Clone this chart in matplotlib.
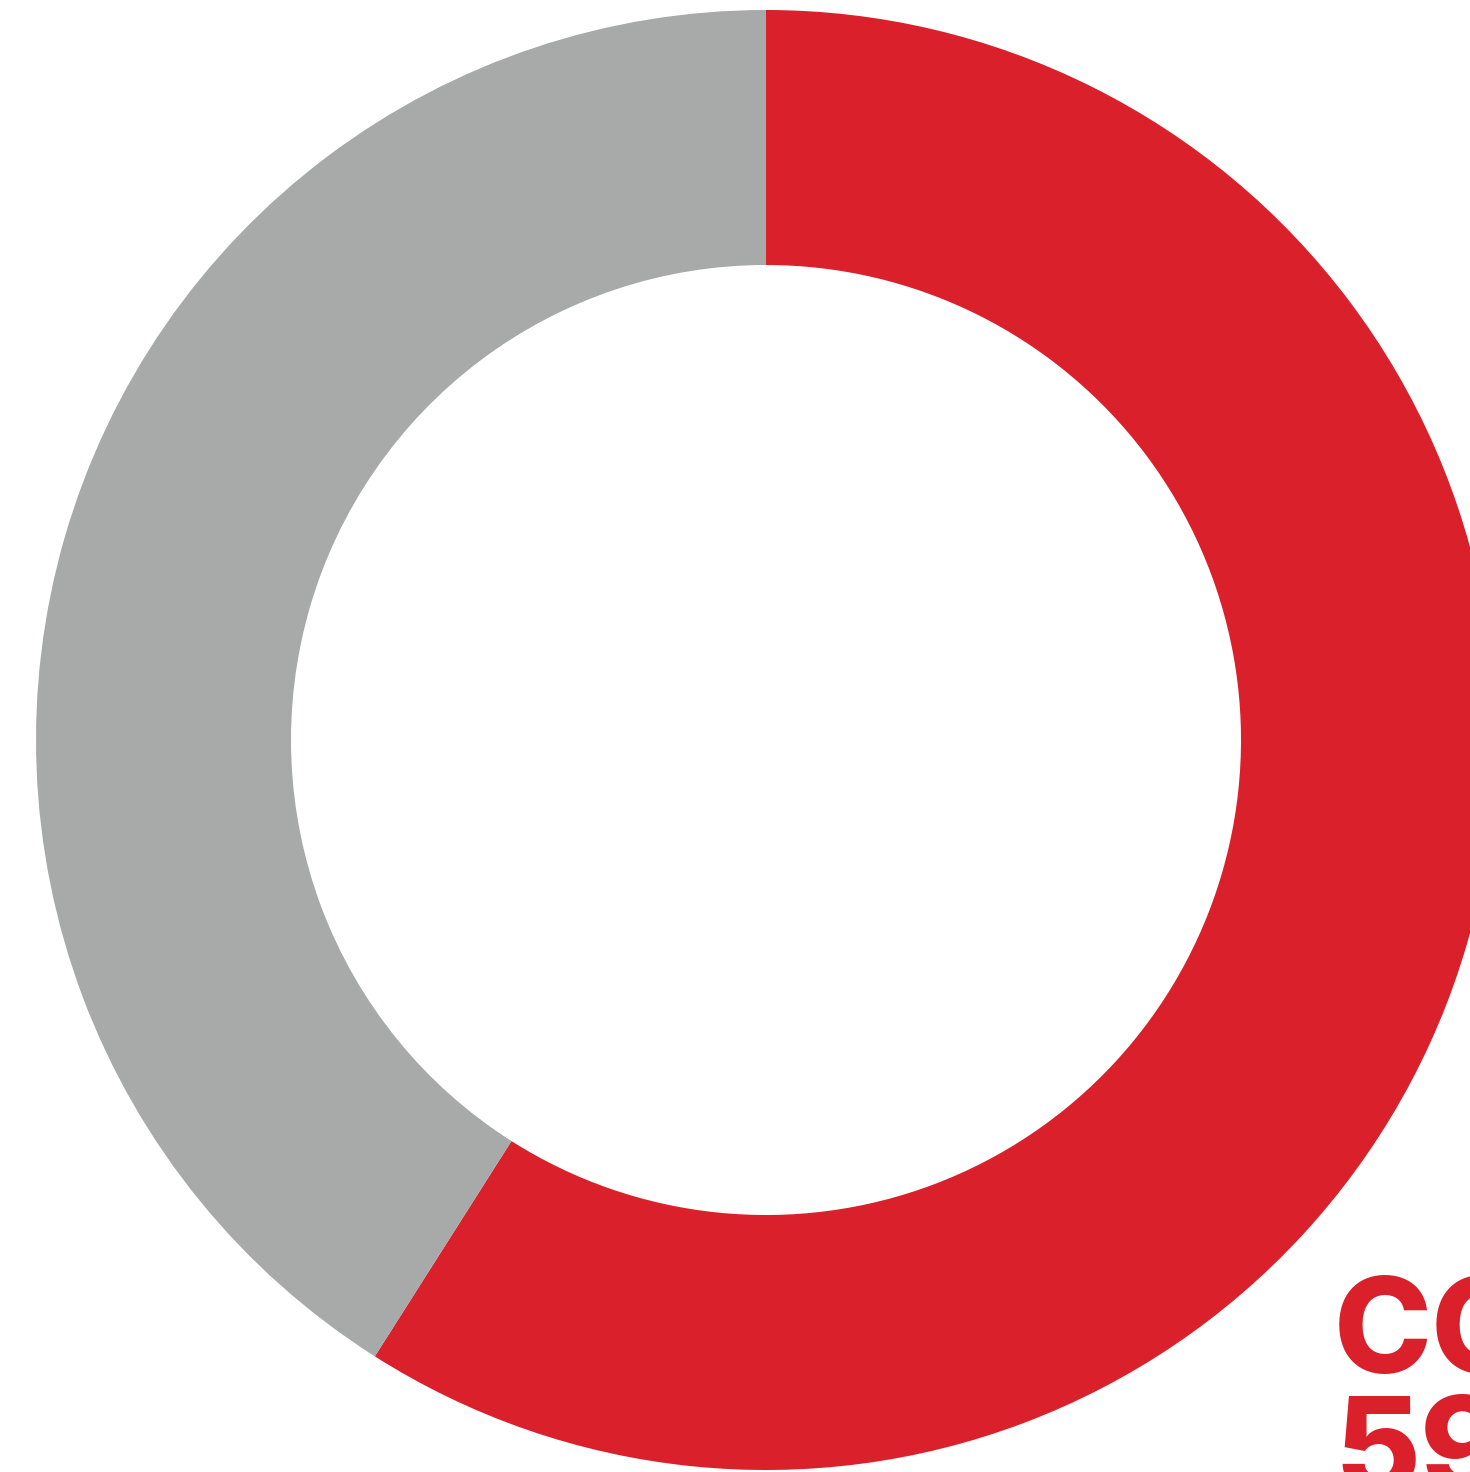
import matplotlib.pyplot as plt

# Share of responses
labels = ["CONSERVATIVE", "OTHER"]
shares = [59, 41]
colors = ["#D9202B", "#A7AAA9"]

W, H = 1470, 1472

fig = plt.figure(figsize=(W / 100, H / 100), dpi=100)
ax = fig.add_axes([0, 0, 1, 1])
ax.set_xlim(0, W)
ax.set_ylim(0, H)
ax.set_aspect("equal")
ax.axis("off")

R_OUT, R_IN = 730, 475
ax.pie(shares, colors=colors, startangle=90, counterclock=False,
       center=(766, 732), radius=R_OUT,
       wedgeprops=dict(width=R_OUT - R_IN, linewidth=0))
ax.set_xlim(0, W)
ax.set_ylim(0, H)

font = dict(family=["Inter", "DejaVu Sans"], fontweight="heavy",
            fontsize=95, color=colors[0], ha="left", va="baseline")
ax.text(1334, 99, labels[0], **font)
ax.text(1334, -20, f"{shares[0]}%", **font)

fig.savefig("out.png", dpi=100, facecolor="white")
